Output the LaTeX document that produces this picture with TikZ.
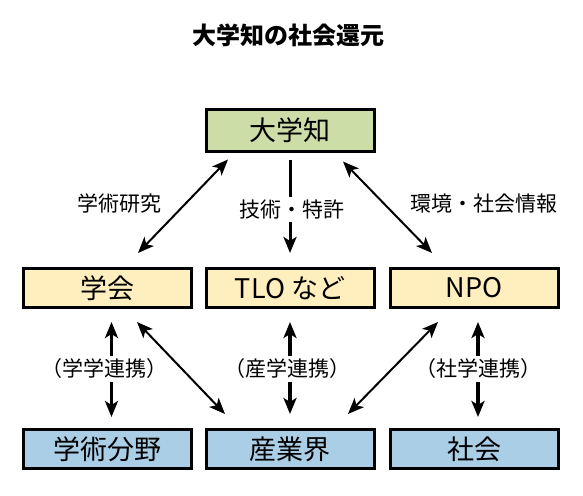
\documentclass[tikz,border=0pt]{standalone}
\usepackage{fontspec}
\setmainfont{Noto Sans CJK JP}
\usetikzlibrary{arrows.meta}
\definecolor{chigreen}{RGB}{204,221,168}
\definecolor{midyellow}{RGB}{255,239,190}
\definecolor{lowblue}{RGB}{170,206,230}

\begin{document}
\begin{tikzpicture}[x=1pt, y=-1pt, font=\fontsize{27}{30}\selectfont, >={Stealth[length=16pt, width=13pt, inset=4pt]},
  box/.style={draw, line width=3pt, minimum width=168pt, minimum height=39pt, inner sep=0pt},
  lbl/.style={font=\fontsize{21}{24}\selectfont, inner sep=3pt},
  diag/.style={<->, line width=2pt},
  vert/.style={<->, line width=3.5pt}]
\useasboundingbox (0,0) rectangle (583,495);
\node[font=\fontsize{24}{28}\selectfont\bfseries] (title) at (288,35) {大学知の社会還元};
\node[box, fill=chigreen, minimum height=42pt] (chi) at (290,130) {大学知};
\node[box, fill=midyellow] (gakkai) at (107.5,288) {学会}; \node[box, fill=midyellow] (tlo) at (290,288) {TLO など}; \node[box, fill=midyellow] (npo) at (474,288) {NPO};
\node[box, fill=lowblue] (gakujutsu) at (107.5,449) {学術分野}; \node[box, fill=lowblue] (sangyo) at (290,449) {産業界}; \node[box, fill=lowblue] (shakai) at (474,449) {社会};
\draw[diag] ([xshift=30.5pt, yshift=14pt]gakkai.north) -- ([xshift=-62pt, yshift=-7pt]chi.south);
\draw[diag] ([xshift=53pt, yshift=-9pt]chi.south) -- ([xshift=-42pt, yshift=14pt]npo.north);
\draw[->, line width=3pt, shorten <=7pt, shorten >=14pt] (chi.south) -- (tlo.north) node[lbl, midway, fill=white, xshift=2pt] (gijutsu) {技術・特許};
\node[lbl] (kenkyu) at (119,204) {学術研究}; \node[lbl] (kankyo) at (484,204) {環境・社会情報};
\draw[vert, shorten <=13pt, shorten >=11pt] ([xshift=4pt]gakkai.south) -- ([xshift=4pt]gakujutsu.north) node[lbl, midway, fill=white, xshift=-7pt] (gakugaku) {（学学連携）};
\draw[vert, shorten <=13pt, shorten >=14pt] (tlo.south) -- (sangyo.north) node[lbl, midway, fill=white, xshift=-3pt] (sangaku) {（産学連携）};
\draw[vert, shorten <=13pt, shorten >=11pt] ([xshift=4pt]npo.south) -- ([xshift=4pt]shakai.north) node[lbl, midway, fill=white] (shagaku) {（社学連携）};
\draw[diag] ([xshift=29.5pt, yshift=-13pt]gakkai.south) -- ([xshift=-65pt, yshift=14pt]sangyo.north);
\draw[diag] ([xshift=-36pt, yshift=-13pt]npo.south) -- ([xshift=58pt, yshift=14pt]sangyo.north);
\end{tikzpicture}
\end{document}
